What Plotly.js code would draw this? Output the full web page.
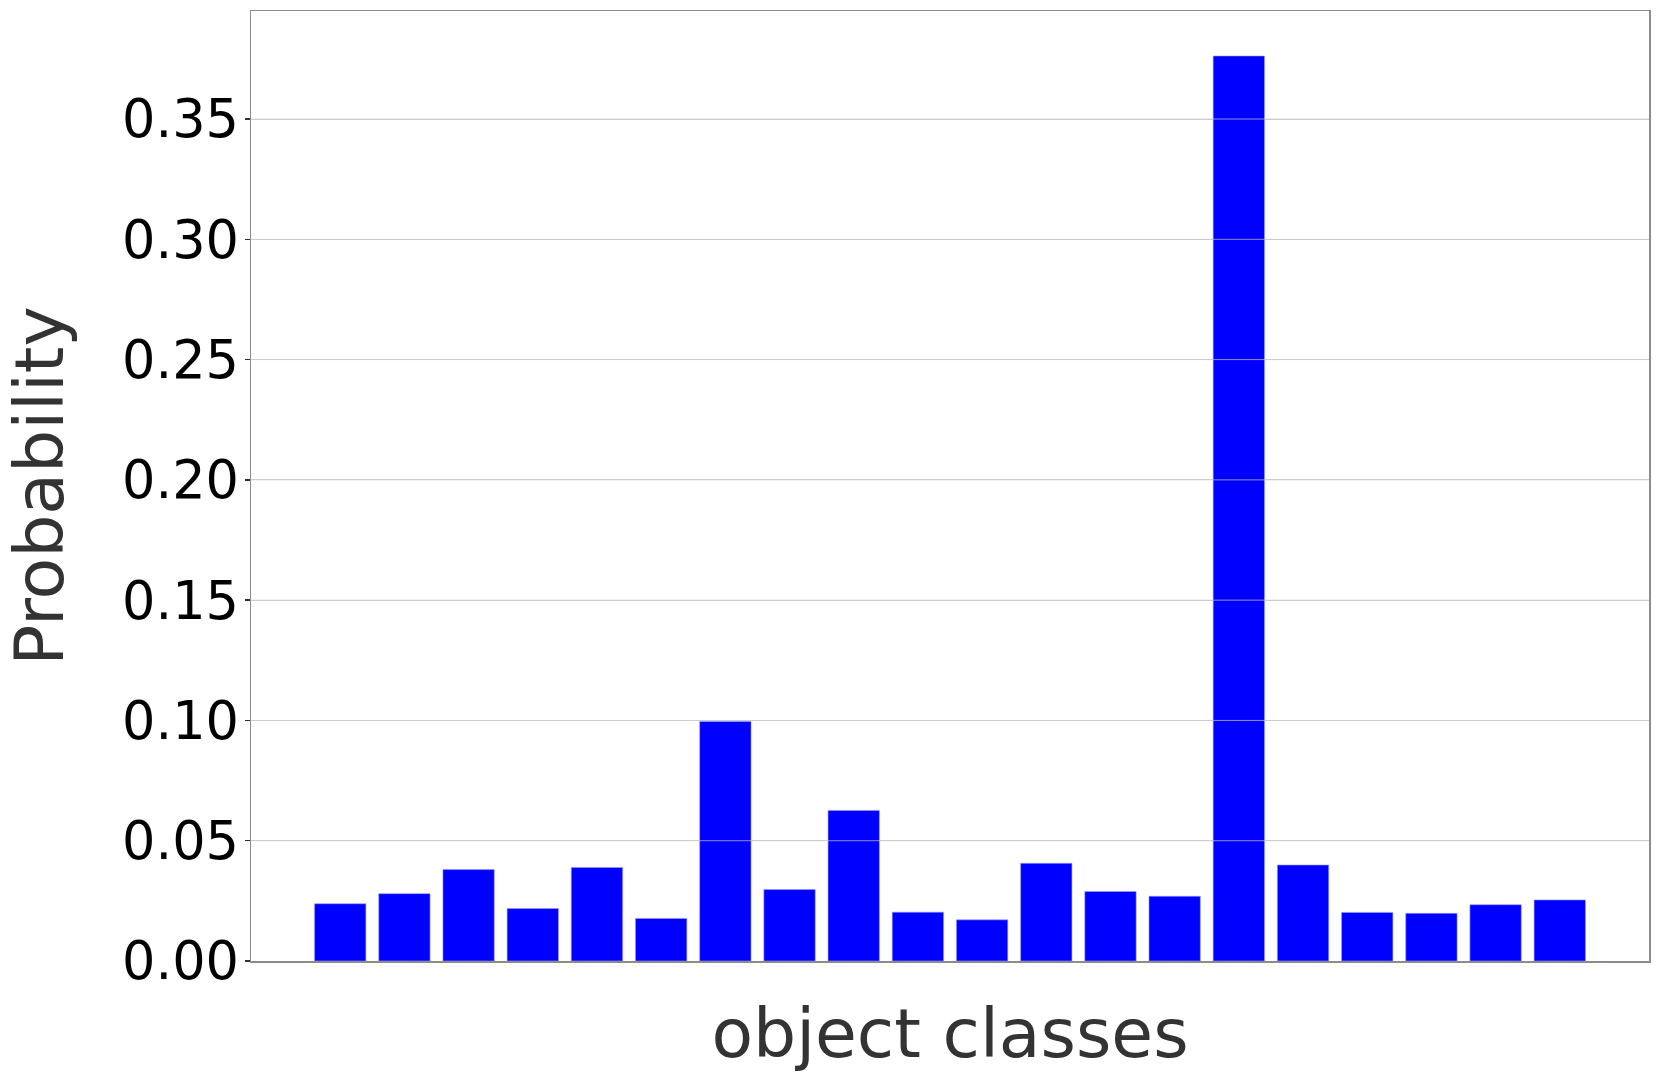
<!DOCTYPE html>
<html>
<head>
<meta charset="utf-8">
<script src="https://cdn.plot.ly/plotly-3.0.1.min.js"></script>
<style>
  html, body { margin: 0; padding: 0; background: #fff; }
  #bar-plot { width: 1661px; height: 1082px; }
</style>
</head>
<body>
<div id="bar-plot"></div>
<script>
// one bar per object class
var classIndex = [0, 1, 2, 3, 4, 5, 6, 7, 8, 9, 10, 11, 12, 13, 14, 15, 16, 17, 18, 19];
var classProbs = [0.0238, 0.0280, 0.0380, 0.0218, 0.0389, 0.0177, 0.0996, 0.0297, 0.0626, 0.0203,
                  0.0171, 0.0406, 0.0289, 0.0269, 0.3762, 0.0399, 0.0202, 0.0198, 0.0234, 0.0254];
var yTicks = [0.00, 0.05, 0.10, 0.15, 0.20, 0.25, 0.30, 0.35];

var trace = {
  x: classIndex,
  y: classProbs,
  type: "bar",
  width: 0.8,
  marker: {color: "#0000ff", line: {color: "#9a9aff", width: 0.6}},
  hoverinfo: "none"
};

// matplotlib draws its grid over the bars, plotly keeps it under; redraw it on top
var gridShapes = yTicks.slice(1).map(function (v) {
  return {
    type: "line", xref: "paper", yref: "y",
    x0: 0, x1: 1, y0: v, y1: v,
    layer: "above",
    line: {color: "rgba(204,204,204,0.7)", width: 1}
  };
});

var layout = {
  width: 1661,
  height: 1082,
  margin: {l: 251, r: 12, t: 11, b: 121},
  paper_bgcolor: "#ffffff",
  plot_bgcolor: "#ffffff",
  font: {family: "DejaVu Sans", color: "#000"},
  showlegend: false,
  shapes: gridShapes,
  xaxis: {
    range: [-1.39, 20.39],
    showticklabels: false,
    ticks: "",
    showgrid: false,
    zeroline: false,
    showline: true,
    mirror: true,
    linecolor: "#8c8c8c",
    linewidth: 1.5,
    title: {text: "object classes", font: {size: 68, color: "#333333"}, standoff: 48}
  },
  yaxis: {
    range: [0, 0.3949],
    tickvals: yTicks,
    tickformat: ".2f",
    ticks: "outside",
    ticklen: 5,
    tickwidth: 1.5,
    tickcolor: "#333333",
    tickfont: {size: 52.5, color: "#000"},
    ticklabelstandoff: -5,
    showgrid: true,
    gridcolor: "#cccccc",
    gridwidth: 1,
    zeroline: false,
    showline: true,
    mirror: true,
    linecolor: "#8c8c8c",
    linewidth: 1.5,
    title: {text: "Probability", font: {size: 68, color: "#333333"}, standoff: 36}
  }
};

Plotly.newPlot("bar-plot", [trace], layout, {staticPlot: true});
</script>
</body>
</html>
